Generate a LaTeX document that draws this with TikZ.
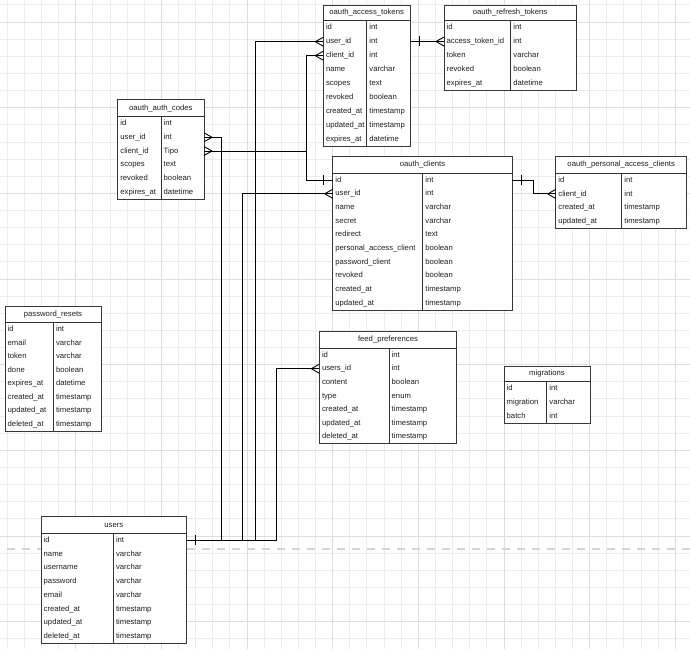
\documentclass[tikz,border=0pt]{standalone}
\usepackage{fontspec}
\setmainfont{Liberation Sans}
\def\ergeom#1/#2/#3/#4/#5/#6\relax{\def\erL{#1}\def\erT{#2}\def\erR{#3}\def\erD{#4}\def\erH{#5}\def\erB{#6}}
\newcommand\ertable[4]{%
  \ergeom#2\relax
  \node[tablebox, minimum width={(\erR-\erL)*1pt}, minimum height={(\erB-\erT)*1pt}] (#1) at (\erL,\erT) {};
  \draw[tline] (\erL,\erH) -- (\erR,\erH);
  \draw[tline] (\erD,\erH) -- (\erD,\erB);
  \node[titletext] (#1-title) at ({(\erL+\erR)/2},{(\erT+\erH)/2}) {#3};
  \foreach \a/\b [count=\i] in {#4} {\xdef\ern{\i}}
  \foreach \a/\b [count=\i] in {#4} {
    \pgfmathsetmacro\yy{\erH+(\i-0.5)*(\erB-\erH)/\ern}
    \node[celltext] (#1-\i) at ({\erL+2.5},\yy) {\a};
    \node[celltext] (#1-\i-t) at ({\erD+2.5},\yy) {\b};
  }
}
\tikzset{
  tablebox/.style={draw=black!78, line width=1pt, fill=white, inner sep=0pt, outer sep=0pt, anchor=north west},
  tline/.style={draw=black!80, line width=0.9pt},
  celltext/.style={anchor=west, inner sep=0pt, font=\fontsize{7.7}{9}\selectfont, text height=5.8pt, text depth=1.6pt, text=black!88},
  titletext/.style={inner sep=0pt, font=\fontsize{7.7}{9}\selectfont, text height=5.8pt, text depth=1.6pt, text=black!88},
  conn/.style={draw=black, line width=0.9pt},
  gridminor/.style={draw=black!7, line width=0.8pt},
  gridmajor/.style={draw=black!13, line width=0.8pt},
  pagebreak/.style={draw=black!17, line width=2.2pt, dash pattern=on 7.8pt off 7.2pt, dash phase=8.3pt},
  pics/crowW/.style={code={\draw[conn] (-8,0) -- (0,-4.5) (-8,0) -- (0,4.5);}},
  pics/crowE/.style={code={\draw[conn] (8,0) -- (0,-4.5) (8,0) -- (0,4.5);}},
  pics/barW/.style={code={\draw[conn] (-9,-5) -- (-9,5);}},
  pics/barE/.style={code={\draw[conn] (9,-5) -- (9,5);}},
}
\begin{document}
\begin{tikzpicture}[x=1pt, y=-1pt]
\useasboundingbox (0,0) rectangle (690,649);
\fill[white] (0,0) rectangle (690,649);
% grid
\foreach \k in {0,...,39} \draw[gridminor] ({7.13+17.13*\k},0) -- ({7.13+17.13*\k},649);
\foreach \k in {0,...,37} \draw[gridminor] (0,{4.87+17.13*\k}) -- (690,{4.87+17.13*\k});
\foreach \k in {0,...,7} \draw[gridmajor] ({75.65+85.65*\k},0) -- ({75.65+85.65*\k},649);
\foreach \k in {0,...,7} \draw[gridmajor] (0,{22+85.65*\k}) -- (690,{22+85.65*\k});
% page break
\draw[pagebreak] (0,549.3) -- (690,549.3);

% tables
\ertable{at}{323.3/5/410/366.7/20.7/146.7}{oauth\_access\_tokens}{id/int, user\_id/int, client\_id/int, name/varchar, scopes/text, revoked/boolean, created\_at/timestamp, updated\_at/timestamp, expires\_at/datetime}
\ertable{rt}{444/5/576/510.7/20.7/90}{oauth\_refresh\_tokens}{id/int, access\_token\_id/int, token/varchar, revoked/boolean, expires\_at/datetime}
\ertable{ac}{117.7/99.7/204/161/116.7/199}{oauth\_auth\_codes}{id/int, user\_id/int, client\_id/Tipo, scopes/text, revoked/boolean, expires\_at/datetime}
\ertable{oc}{332.7/156/512.3/422.7/173.3/310}{oauth\_clients}{id/int, user\_id/int, name/varchar, secret/varchar, redirect/text, personal\_access\_client/boolean, password\_client/boolean, revoked/boolean, created\_at/timestamp, updated\_at/timestamp}
\ertable{pc}{555.7/156/686.7/621.7/173.3/228.3}{oauth\_personal\_access\_clients}{id/int, client\_id/int, created\_at/timestamp, updated\_at/timestamp}
\ertable{pr}{5/306/101/53.3/322.7/431}{password\_resets}{id/int, email/varchar, token/varchar, done/boolean, expires\_at/datetime, created\_at/timestamp, updated\_at/timestamp, deleted\_at/timestamp}
\ertable{fp}{319.3/331/456.7/389/348.3/443.5}{feed\_preferences}{id/int, users\_id/int, content/boolean, type/enum, created\_at/timestamp, updated\_at/timestamp, deleted\_at/timestamp}
\ertable{mg}{504/366/590/546.7/381/423.5}{migrations}{id/int, migration/varchar, batch/int}
\ertable{us}{41/516.7/186.7/113.3/533.3/643.3}{users}{id/int, name/varchar, username/varchar, password/varchar, email/varchar, created\_at/timestamp, updated\_at/timestamp, deleted\_at/timestamp}

% lanes
\coordinate (laneA) at (221.7,540);
\coordinate (laneB) at (242.5,540);
\coordinate (laneC) at (255.7,540);
\coordinate (laneD) at (276.7,540);
\coordinate (laneE) at (306.7,100);
\coordinate (laneF) at (533,180);

% users.id relations
\draw[conn] (us.east |- us-1) -| (laneA |- ac-2) -- (ac.east |- ac-2);
\draw[conn] (us.east |- us-1) -| (laneB |- oc-2) -- (oc.west |- oc-2);
\draw[conn] (us.east |- us-1) -| (laneC |- at-2) -- (at.west |- at-2);
\draw[conn] (us.east |- us-1) -| (laneD |- fp-2) -- (fp.west |- fp-2);
\pic at (us.east |- us-1) {barE};
\pic at (ac.east |- ac-2) {crowE};
\pic at (oc.west |- oc-2) {crowW};
\pic at (at.west |- at-2) {crowW};
\pic at (fp.west |- fp-2) {crowW};

% oauth_clients.id relations
\draw[conn] (oc.west |- oc-1) -| (laneE |- at-3) -- (at.west |- at-3);
\draw[conn] (oc.west |- oc-1) -| (laneE |- ac-3) -- (ac.east |- ac-3);
\pic at (oc.west |- oc-1) {barW};
\pic at (at.west |- at-3) {crowW};
\pic at (ac.east |- ac-3) {crowE};

\draw[conn] (oc.east |- oc-1) -| (laneF |- pc-2) -- (pc.west |- pc-2);
\pic at (oc.east |- oc-1) {barE};
\pic at (pc.west |- pc-2) {crowW};

% access token -> refresh token
\draw[conn] (at.east |- rt-2) -- (rt.west |- rt-2);
\pic at (at.east |- rt-2) {barE};
\pic at (rt.west |- rt-2) {crowW};
\end{tikzpicture}
\end{document}
